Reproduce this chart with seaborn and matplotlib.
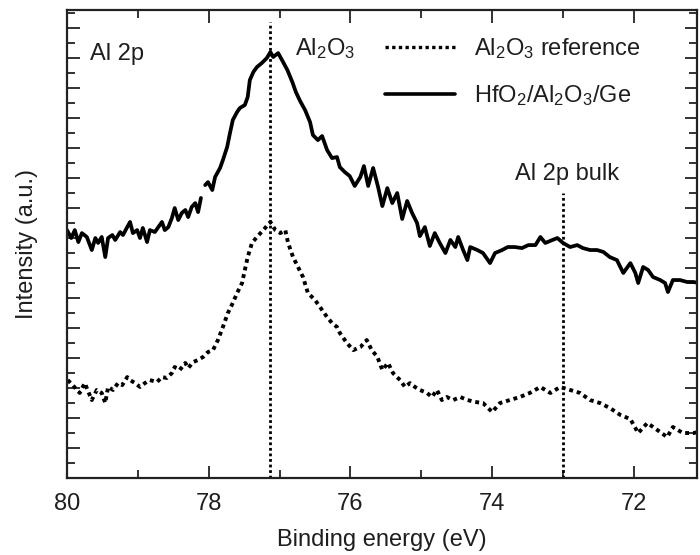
import numpy as np
import pandas as pd
import seaborn as sns
import matplotlib
matplotlib.use("Agg")
import matplotlib.pyplot as plt
from matplotlib.lines import Line2D
from matplotlib.ticker import MultipleLocator, NullFormatter

# ---------------- data ----------------
# HfO2/Al2O3/Ge spectrum: binding energy (eV) and intensity (a.u.)
# segment 1 (before the small break in the measured curve)
film_energy_a = [80.00, 79.94, 79.89, 79.84, 79.79, 79.72, 79.65, 79.60, 79.56, 79.51,
                 79.46, 79.42, 79.36, 79.32, 79.25, 79.21, 79.15, 79.11, 79.07, 79.01,
                 78.97, 78.93, 78.87, 78.83, 78.76, 78.72, 78.66, 78.62, 78.57, 78.52,
                 78.48, 78.43, 78.38, 78.33, 78.29, 78.24, 78.19, 78.15, 78.11]
film_intensity_a = [16.53, 16.00, 16.53, 15.73, 16.33, 16.07, 15.20, 16.00, 15.67, 16.07,
                    14.73, 16.00, 16.20, 15.87, 16.40, 16.20, 16.73, 17.07, 16.33, 16.53,
                    16.00, 16.67, 15.73, 16.53, 16.40, 16.67, 17.07, 16.53, 16.73, 17.33,
                    18.00, 17.20, 17.67, 17.87, 17.40, 18.07, 18.33, 17.73, 18.67]
# segment 2
film_energy_b = [78.05, 78.01, 77.95, 77.91, 77.84, 77.80, 77.74, 77.70, 77.66, 77.60,
                 77.56, 77.49, 77.45, 77.42, 77.37, 77.32, 77.25, 77.18, 77.13, 77.09,
                 77.02, 76.95, 76.89, 76.82, 76.77, 76.71, 76.64, 76.57, 76.53, 76.46,
                 76.40, 76.33, 76.26, 76.19, 76.15, 76.08, 76.01, 75.94, 75.86, 75.81,
                 75.75, 75.68, 75.61, 75.55, 75.48, 75.41, 75.34, 75.27, 75.20, 75.13,
                 75.06, 75.02, 74.95, 74.88, 74.81, 74.74, 74.66, 74.59, 74.52, 74.48,
                 74.41, 74.35, 74.31, 74.21, 74.13, 74.03, 73.96, 73.86, 73.78, 73.68,
                 73.58, 73.49, 73.39, 73.32, 73.25, 73.15, 73.08, 73.00, 72.90, 72.80,
                 72.72, 72.62, 72.52, 72.43, 72.34, 72.24, 72.15, 72.05, 71.98, 71.94,
                 71.87, 71.80, 71.73, 71.63, 71.56, 71.52, 71.45, 71.35, 71.25, 71.16,
                 71.09]
film_intensity_b = [19.53, 19.73, 19.20, 20.07, 20.67, 21.20, 22.07, 23.00, 23.87, 24.40,
                    24.67, 24.87, 25.40, 26.53, 27.07, 27.40, 27.67, 28.00, 28.40, 28.07,
                    28.33, 27.73, 27.20, 26.40, 25.73, 25.13, 24.53, 23.73, 22.87, 22.53,
                    22.80, 21.87, 21.33, 21.40, 20.73, 20.40, 20.13, 19.47, 20.07, 20.80,
                    19.47, 20.67, 19.40, 18.13, 19.33, 18.33, 19.00, 17.27, 18.47, 17.67,
                    17.00, 16.13, 16.73, 15.47, 16.33, 15.67, 15.00, 15.87, 15.40, 16.07,
                    15.20, 14.53, 15.40, 15.20, 15.00, 14.33, 15.00, 15.20, 15.40, 15.40,
                    15.33, 15.53, 15.53, 16.07, 15.67, 15.87, 16.00, 15.67, 15.40, 15.53,
                    15.33, 15.20, 15.20, 15.07, 14.73, 14.53, 13.67, 14.33, 13.67, 13.00,
                    14.07, 13.87, 13.40, 13.20, 13.00, 12.40, 13.20, 13.20, 13.07, 13.07,
                    13.00]

# Al2O3 reference spectrum
ref_energy = [79.99, 79.92, 79.86, 79.82, 79.75, 79.65, 79.58, 79.51, 79.46, 79.42,
              79.35, 79.28, 79.22, 79.15, 79.11, 79.04, 78.97, 78.90, 78.83, 78.73,
              78.66, 78.59, 78.52, 78.48, 78.41, 78.33, 78.29, 78.22, 78.15, 78.08,
              78.01, 77.94, 77.87, 77.80, 77.73, 77.66, 77.60, 77.53, 77.49, 77.45,
              77.39, 77.32, 77.23, 77.13, 77.06, 76.99, 76.92, 76.88, 76.81, 76.74,
              76.67, 76.60, 76.50, 76.43, 76.33, 76.26, 76.19, 76.15, 76.05, 75.96,
              75.86, 75.77, 75.70, 75.62, 75.55, 75.47, 75.40, 75.30, 75.23, 75.16,
              75.09, 75.02, 74.92, 74.85, 74.78, 74.71, 74.64, 74.55, 74.45, 74.35,
              74.24, 74.13, 74.00, 73.89, 73.75, 73.61, 73.47, 73.32, 73.18, 73.04,
              72.90, 72.76, 72.62, 72.48, 72.34, 72.19, 72.05, 71.94, 71.81, 71.67,
              71.53, 71.45, 71.31, 71.16, 71.09]
ref_intensity = [6.53, 6.20, 5.87, 5.67, 6.33, 5.20, 5.87, 5.67, 5.00, 6.07,
                 5.87, 6.33, 6.20, 6.73, 6.53, 6.33, 6.07, 6.33, 6.53, 6.40,
                 6.73, 6.67, 7.00, 7.40, 7.20, 7.67, 7.33, 7.73, 7.87, 8.07,
                 8.40, 8.53, 9.20, 10.07, 11.00, 11.67, 12.33, 13.00, 13.87, 14.73,
                 15.67, 16.07, 16.53, 17.07, 16.53, 16.33, 16.53, 15.67, 14.73, 14.07,
                 13.40, 12.33, 11.87, 11.40, 10.73, 10.33, 10.07, 9.67, 9.00, 8.53,
                 8.73, 9.20, 8.53, 8.07, 7.20, 7.67, 7.00, 6.53, 6.07, 6.33,
                 6.07, 5.87, 5.67, 5.40, 5.87, 5.20, 5.40, 5.20, 5.40, 5.20,
                 5.07, 5.00, 4.40, 5.00, 5.20, 5.40, 5.67, 6.07, 5.67, 6.07,
                 5.87, 5.67, 5.20, 5.00, 4.67, 4.20, 3.93, 3.00, 3.67, 3.20,
                 2.73, 3.40, 3.00, 3.00, 3.07]

peak_positions = [77.13, 73.00]           # Al2O3 and Al 2p bulk markers
x_limits = [80.0, 71.11]
y_limits = [0.0, 31.2]
x_ticks = [80, 78, 76, 74, 72]
series_labels = ["Al$_2$O$_3$ reference", "HfO$_2$/Al$_2$O$_3$/Ge"]

# ---------------- style ----------------
sns.set_style("ticks")
plt.rcParams["font.family"] = ["Liberation Sans", "DejaVu Sans"]
plt.rcParams["mathtext.fontset"] = "custom"
plt.rcParams["mathtext.rm"] = "Liberation Sans"
plt.rcParams["mathtext.it"] = "Liberation Sans"
plt.rcParams["mathtext.bf"] = "Liberation Sans"
TXT = "#1e1e1e"

film_df = pd.concat([
    pd.DataFrame({"E": film_energy_a, "I": film_intensity_a, "seg": 0}),
    pd.DataFrame({"E": film_energy_b, "I": film_intensity_b, "seg": 1}),
], ignore_index=True)
ref_df = pd.DataFrame({"E": ref_energy, "I": ref_intensity, "seg": 0})

fig = plt.figure(figsize=(7.0, 5.55), dpi=100)
ax = fig.add_axes([0.0957, 0.1387, 0.9, 0.8432])

dot_style = (0, (1, 1))
sns.lineplot(data=ref_df, x="E", y="I", units="seg", estimator=None, sort=False,
             color="black", lw=2.8, linestyle=dot_style, ax=ax, legend=False)
sns.lineplot(data=film_df, x="E", y="I", units="seg", estimator=None, sort=False,
             color="black", lw=2.7, ax=ax, legend=False)

ax.axvline(peak_positions[0], ymin=0, ymax=0.975, color="black", lw=2.0, linestyle=dot_style)
ax.axvline(peak_positions[1], ymin=0, ymax=0.61, color="black", lw=2.0, linestyle=dot_style)

ax.set_xlim(*x_limits)
ax.set_ylim(*y_limits)
ax.set_xticks(x_ticks)
ax.set_xticklabels([str(t) for t in x_ticks])
ax.xaxis.set_minor_locator(MultipleLocator(1))
ax.yaxis.set_major_locator(MultipleLocator(2))
ax.yaxis.set_minor_locator(MultipleLocator(1))
ax.yaxis.set_major_formatter(NullFormatter())
ax.tick_params(which="both", direction="in", top=True, right=True, color="#222222",
               width=1.3, labelsize=17, labelcolor=TXT, pad=11)
ax.tick_params(which="major", length=9)
ax.tick_params(which="minor", length=5.5)
for s in ax.spines.values():
    s.set_linewidth(1.6)
    s.set_color("#222222")

ax.set_xlabel("Binding energy (eV)", fontsize=17, color=TXT, labelpad=10)
ax.set_ylabel("Intensity (a.u.)", fontsize=17, color=TXT, labelpad=10)

ax.text(79.675, 27.87, "Al 2p", fontsize=17, color=TXT, ha="left", va="baseline")
ax.text(76.78, 28.2, "Al$_2$O$_3$", fontsize=17, color=TXT, ha="left", va="baseline")
ax.text(72.95, 19.87, "Al 2p bulk", fontsize=17, color=TXT, ha="center", va="baseline")

handles = [Line2D([], [], color="black", lw=2.4, linestyle=dot_style),
           Line2D([], [], color="black", lw=2.6)]
ax.legend(handles, series_labels, loc="upper left", bbox_to_anchor=(0.505, 0.945),
          frameon=False, fontsize=17, handlelength=2.95, handletextpad=0.8,
          labelspacing=0.95, borderpad=0, borderaxespad=0, labelcolor=TXT)

fig.savefig("out.png", dpi=100)
